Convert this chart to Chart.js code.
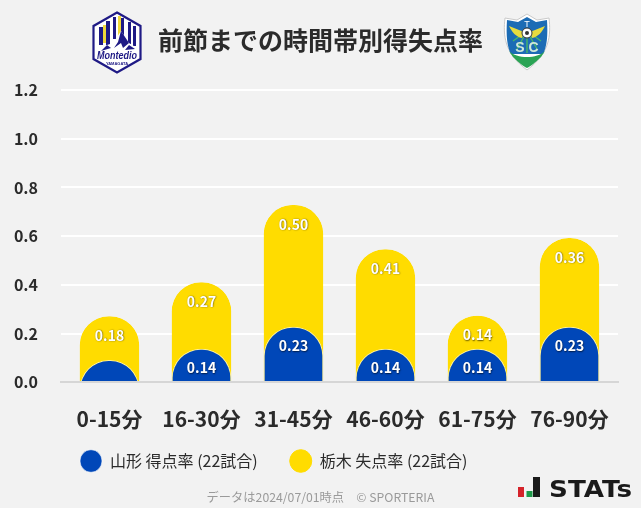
<!DOCTYPE html>
<html lang="ja">
<head>
<meta charset="utf-8">
<title>前節までの時間帯別得失点率</title>
<script src="https://cdn.jsdelivr.net/npm/chart.js@4"></script>
<style>
  html, body { margin: 0; padding: 0; background: #f2f2f2; }
  #wrap { position: relative; width: 641px; height: 508px; overflow: hidden; }
  #chart { display: block; }
  svg { position: absolute; }
</style>
</head>
<body>
<div id="wrap">
  <canvas id="chart" width="641" height="508"></canvas>

  <!-- team crest, left -->
  <svg style="left:92px;top:11px" width="50" height="63" viewBox="0 0 50 63">
    <path d="M25 1.5 L48.5 15 V48 L25 61.5 L1.5 48 V15 Z" fill="#fff" stroke="#1f1a85" stroke-width="2.2"/>
    <path d="M7 16 h4 v18 h-4z M14 10 h4 v24 h-4z M21 6 h3 v22 h-3z M29 7 h3 v20 h-3z M36 11 h3 v22 h-3z M41 15 h3 v20 h-3z" fill="#1f1a85"/>
    <path d="M11 14 h3 v18 h-3z M26 5 h3 v20 h-3z" fill="#f0d93a"/>
    <path d="M5 40 L15 34 L21 32 L29 20 L37 32 L45 37 V41 H5Z" fill="#fff"/>
    <path d="M29 20 L26 31 L22 37 L29 32 L31 37 L37 32Z M15 34 L9 40 L19 37Z M37 34 L33 39 L43 38Z" fill="#1f1a85"/>
    <text x="25" y="48" text-anchor="middle" font-family="Liberation Sans" font-style="italic" font-weight="700" font-size="11" fill="#1f1a85" textLength="40" lengthAdjust="spacingAndGlyphs">Montedio</text>
    <text x="25" y="54" text-anchor="middle" font-family="Liberation Sans" font-weight="700" font-size="4" fill="#1f1a85">YAMAGATA</text>
  </svg>

  <!-- team crest, right -->
  <svg style="left:503px;top:13px" width="48" height="58" viewBox="0 0 48 58">
    <path d="M24 1 L34 7 L46 5 C48 22 47 40 24 57 C1 40 0 22 2 5 L14 7Z" fill="#fff" stroke="#c9c9c9" stroke-width="1"/>
    <path d="M24 4 L33 9 L44 7 C45 22 44 34 40 41 H8 C4 34 3 22 4 7 L15 9Z" fill="#1c6cb5"/>
    <path d="M6 38 C14 46 34 46 42 38 L38 44 C32 50 28 53 24 55 C20 53 16 50 10 44Z" fill="#2aa354"/>
    <path d="M24 18 L10 28 M24 18 L38 28 M24 18 V40 M24 18 L14 36 M24 18 L34 36" stroke="#45b56a" stroke-width="1.4"/>
    <path d="M6 13 L21 19 L19 25 C13 24 9 19 6 13Z M42 13 L27 19 L29 25 C35 24 39 19 42 13Z" fill="#e7dc3f"/>
    <circle cx="24" cy="20" r="5" fill="#fff" stroke="#333" stroke-width="1"/>
    <circle cx="24" cy="20" r="2" fill="#333"/>
    <text x="24" y="14" text-anchor="middle" font-family="Liberation Sans" font-size="9" fill="#fff">T</text>
    <text x="24" y="39" text-anchor="middle" font-family="Liberation Sans" font-weight="700" font-size="14" fill="#cfe9d8">S C</text>
  </svg>

  <!-- stats logo -->
  <svg style="left:510px;top:472px" width="131" height="34" viewBox="0 0 131 34">
    <rect x="8" y="15" width="6" height="10" fill="#d5232a"/>
    <rect x="16.500" y="19" width="6" height="6" fill="#1f9a4a"/>
    <rect x="23" y="5" width="7" height="20" fill="#1a1a1a"/>
    <text x="39" y="25" font-family="DejaVu Sans" font-weight="700" font-size="23" fill="#1a1a1a" textLength="83" lengthAdjust="spacingAndGlyphs">STATs</text>
  </svg>
</div>

<script>
const categories = ["0-15分", "16-30分", "31-45分", "46-60分", "61-75分", "76-90分"];
const yamagataRates = [0.09, 0.136, 0.227, 0.136, 0.136, 0.227];
const tochigiRates = [0.18, 0.273, 0.50, 0.409, 0.136, 0.364];
const yTicks = [0, 0.2, 0.4, 0.6, 0.8, 1.0, 1.2];
const seriesNames = ["山形 得点率 (22試合)", "栃木 失点率 (22試合)"];

const FONT = "'Noto Sans CJK JP', 'Noto Sans', sans-serif";
const TEXT = "#2b2b2b";
// bars start below the axis and get clipped, so short ones keep the full round top
const BAR_FLOOR = -0.2;

const valueLabels = {
  id: "valueLabels",
  afterDatasetsDraw(chart) {
    const ctx = chart.ctx;
    const y = chart.scales.y;
    const sets = [yamagataRates, tochigiRates];
    ctx.save();
    ctx.font = "700 14px " + FONT;
    ctx.textAlign = "center";
    ctx.textBaseline = "middle";
    ctx.fillStyle = "#fff";
    ctx.shadowColor = "rgba(0,0,0,0.6)";
    ctx.shadowBlur = 1.5;
    ctx.shadowOffsetX = 0.5;
    ctx.shadowOffsetY = 0.5;
    sets.forEach((values, i) => {
      const ds = chart.data.datasets[i];
      chart.getDatasetMeta(i).data.forEach((bar, j) => {
        // the first blue bar is too short to hold its label
        if (values[j] < 0.1) return;
        ctx.fillText(values[j].toFixed(2), bar.x, y.getPixelForValue(ds.data[j][1]) + 19);
      });
    });
    ctx.restore();
  }
};

const layoutTweaks = {
  id: "layoutTweaks",
  afterLayout(chart) {
    // grid runs a little past the outer bars
    const x = chart.scales.x;
    x._startValue = -0.527;
    x._valueRange = x.width / 92;
    chart.legend.left = 48;
    chart.legend.top = 421;
    // title and footer centre on the whole canvas, not the padded area
    chart.boxes.forEach(b => {
      if (b.options && b.options.text) b.right = chart.width;
    });
  }
};

new Chart(document.getElementById("chart"), {
  type: "bar",
  data: {
    labels: categories,
    datasets: [
      {
        label: seriesNames[0],
        data: yamagataRates.map(v => [BAR_FLOOR, v]),
        backgroundColor: "#0047b8",
        borderColor: "rgba(255,255,255,0.6)",
        borderWidth: 1
      },
      {
        label: seriesNames[1],
        data: tochigiRates.map((v, i) => [BAR_FLOOR, v + yamagataRates[i]]),
        backgroundColor: "#ffdc00",
        borderColor: "#ffdc00",
        borderWidth: 1
      }
    ]
  },
  options: {
    responsive: false,
    animation: false,
    devicePixelRatio: 1,
    layout: { padding: { right: 23 } },
    datasets: {
      bar: {
        grouped: false,
        barThickness: 59,
        borderSkipped: false,
        borderRadius: 29
      }
    },
    scales: {
      x: {
        grid: { display: false },
        border: { color: "#d6d6d6", width: 2, z: 1 },
        ticks: { color: TEXT, padding: 16, maxRotation: 0, font: { family: FONT, size: 21, weight: "700" } },
        afterFit(s) { s.height = 48; }
      },
      y: {
        min: 0,
        max: 1.2,
        afterBuildTicks(s) { s.ticks = yTicks.map(value => ({ value })); },
        grid: { color: "#ffffff", lineWidth: 2, drawTicks: false },
        border: { display: false },
        ticks: {
          color: TEXT,
          padding: 23,
          font: { family: FONT, size: 16, weight: "700" },
          callback: v => v.toFixed(1)
        },
        afterFit(s) { s.width = 61; }
      }
    },
    plugins: {
      tooltip: { enabled: false },
      title: {
        display: true,
        text: "前節までの時間帯別得失点率",
        color: TEXT,
        padding: { top: 25, bottom: 35 },
        font: { family: FONT, size: 25, weight: "700" }
      },
      legend: {
        position: "bottom",
        align: "start",
        onClick: null,
        labels: {
          usePointStyle: true,
          pointStyleWidth: 22,
          padding: 32,
          color: TEXT,
          font: { family: FONT, size: 16 }
        }
      },
      subtitle: {
        display: true,
        position: "bottom",
        text: "データは2024/07/01時点　© SPORTERIA",
        color: "#9a9a9a",
        padding: { top: 2, bottom: 3 },
        font: { family: FONT, size: 12.25 }
      }
    }
  },
  plugins: [valueLabels, layoutTweaks]
});
</script>
</body>
</html>
